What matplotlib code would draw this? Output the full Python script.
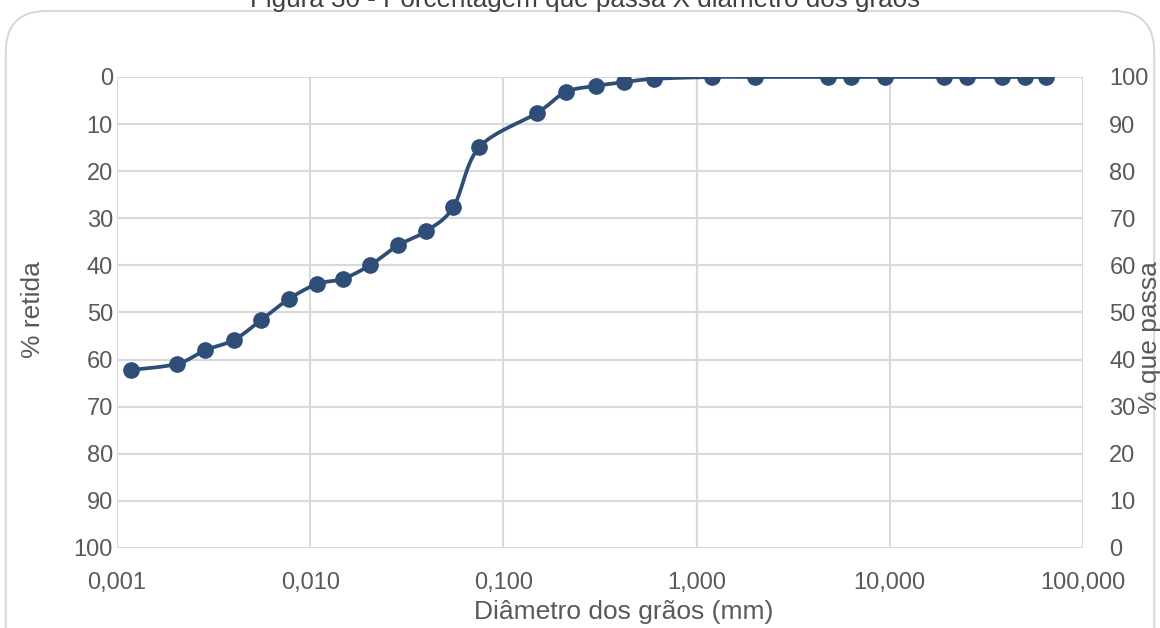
import numpy as np
import matplotlib.pyplot as plt
from matplotlib.patches import FancyBboxPatch

plt.rcParams['font.family'] = ['Liberation Sans', 'DejaVu Sans']

# ensaio de granulometria
diametro = [0.00118, 0.00205, 0.00286, 0.00404, 0.00557, 0.00778, 0.0109,
            0.0147, 0.0205, 0.0286, 0.0399, 0.0551, 0.075, 0.15, 0.21, 0.30,
            0.42, 0.60, 1.2, 2.0, 4.8, 6.3, 9.5, 19.0, 25.0, 38.0, 50.0, 64.0]
passa = [37.8, 39.1, 42.0, 44.2, 48.4, 52.9, 56.1, 57.1, 60.1, 64.3, 67.3,
         72.4, 85.1, 92.4, 96.8, 98.1, 98.9, 99.6, 100, 100, 100, 100, 100,
         100, 100, 100, 100, 100]
xticks = [0.001, 0.01, 0.1, 1, 10, 100]
xlabels = ['0,001', '0,010', '0,100', '1,000', '10,000', '100,000']

cor = '#2e4e78'
grade = '#d9d9d9'
texto = '#595959'


def suaviza(x, y, n=20, t=0.5):
    # curva suave entre os pontos (tipo Catmull-Rom)
    x = np.asarray(x, float)
    y = np.asarray(y, float)
    px = np.concatenate([[x[0]], x, [x[-1]]])
    py = np.concatenate([[y[0]], y, [y[-1]]])
    sx, sy = [], []
    for i in range(1, len(px) - 2):
        mx0 = t * (px[i + 1] - px[i - 1])
        mx1 = t * (px[i + 2] - px[i])
        my0 = t * (py[i + 1] - py[i - 1])
        my1 = t * (py[i + 2] - py[i])
        s = np.linspace(0, 1, n, endpoint=False)
        h00 = 2 * s**3 - 3 * s**2 + 1
        h10 = s**3 - 2 * s**2 + s
        h01 = -2 * s**3 + 3 * s**2
        h11 = s**3 - s**2
        sx.extend(h00 * px[i] + h10 * mx0 + h01 * px[i + 1] + h11 * mx1)
        sy.extend(h00 * py[i] + h10 * my0 + h01 * py[i + 1] + h11 * my1)
    sx.append(x[-1])
    sy.append(y[-1])
    return np.array(sx), np.array(sy)


fig = plt.figure(figsize=(11.6, 6.28), dpi=100)
ax = fig.add_axes([0.1009, 0.1274, 0.8327, 0.75])
ax2 = ax.twinx()

ax.set_xscale('log')
ax.set_xlim(0.001, 100)
ax.set_ylim(100, 0)
ax2.set_ylim(0, 100)

ax.set_xticks(xticks)
ax.set_xticklabels(xlabels)
ax.xaxis.set_minor_locator(plt.NullLocator())
ax.set_yticks(range(0, 101, 10))
ax2.set_yticks(range(0, 101, 10))

for a in (ax, ax2):
    a.tick_params(length=0, labelsize=17, labelcolor=texto)
    for s in a.spines.values():
        s.set_visible(False)
ax.tick_params(axis='x', pad=17)
ax.tick_params(axis='y', pad=3)
ax2.tick_params(axis='y', pad=19)

ax.grid(True, color=grade, linewidth=1.5)
ax.set_axisbelow(True)
ax.axvline(1, color='#bfbfbf', linewidth=1.5, zorder=0.5)
ax.axhline(100, color='#bfbfbf', linewidth=1.5, zorder=0.5)

lx, ly = suaviza(np.log10(diametro), passa)
ax2.plot(10**lx, ly, color=cor, linewidth=2.7, solid_capstyle='round')
ax2.plot(diametro, passa, 'o', color=cor, markersize=11)

# titulos dos eixos
fig.text(624 / 1160, 1 - 612 / 628, 'Diâmetro dos grãos (mm)', ha='center',
         va='center', fontsize=19, color=texto)
fig.text(33 / 1160, 1 - 310 / 628, '% retida', rotation=90, ha='center',
         va='center', fontsize=19, color=texto)
fig.text(1150 / 1160, 1 - 338 / 628, '% que passa', rotation=90, ha='center',
         va='center', fontsize=19, color=texto)

fig.text(0.504, 1 - 7 / 628,
         'Figura 30 - Porcentagem que passa X diâmetro dos grãos',
         ha='center', va='baseline', fontsize=18.7, color='#404040')

moldura = FancyBboxPatch((0.005, -0.1), 0.99, 1.0825,
                         boxstyle='round,pad=0,rounding_size=0.035',
                         transform=fig.transFigure, facecolor='none',
                         edgecolor='#d9d9d9', linewidth=1.5, clip_on=False,
                         mutation_aspect=1.85)
fig.patches.append(moldura)

plt.savefig('out.png', dpi=100)
